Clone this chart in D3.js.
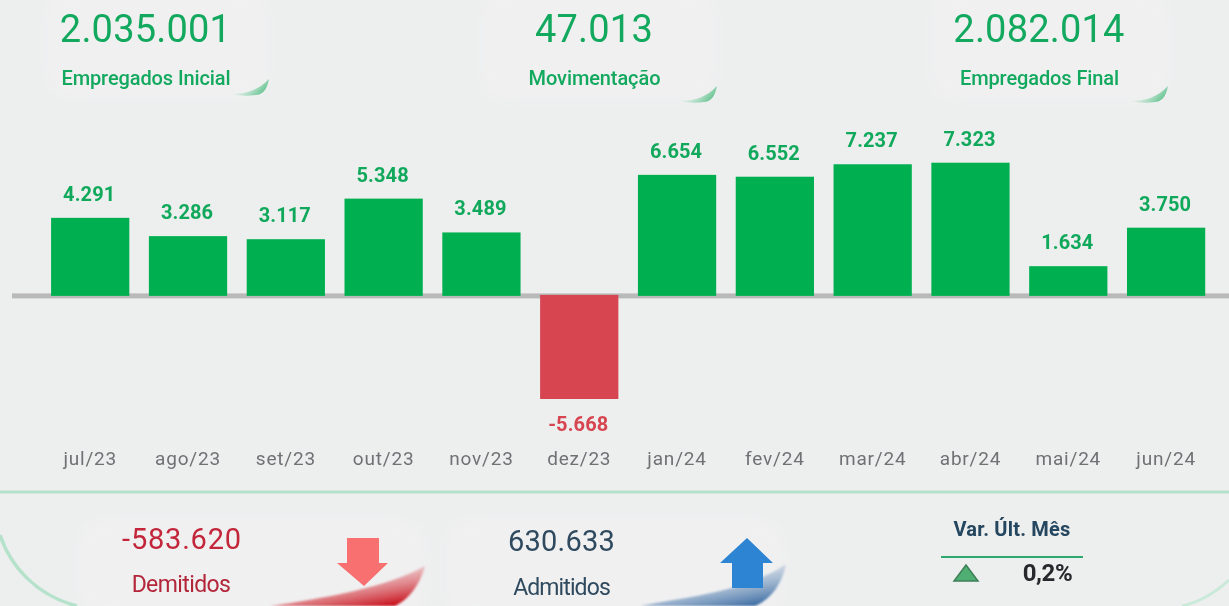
<!DOCTYPE html>
<html>
<head>
<meta charset="utf-8">
<script src="https://d3js.org/d3.v7.min.js"></script>
<style>
  html, body { margin: 0; padding: 0; background: #edeeee; overflow: hidden; }
  text { font-family: "Roboto", sans-serif; }
  svg { filter: blur(0.45px); }
</style>
</head>
<body>
<div id="my_dataviz"></div>

<script>

// chart data
var months = ["jul/23", "ago/23", "set/23", "out/23", "nov/23", "dez/23",
              "jan/24", "fev/24", "mar/24", "abr/24", "mai/24", "jun/24"];
var saldo = [4291, 3286, 3117, 5348, 3489, -5668, 6654, 6552, 7237, 7323, 1634, 3750];

// kpi cards
var kpiValues = ["2.035.001", "47.013", "2.082.014"];
var kpiLabels = ["Empregados Inicial", "Movimentação", "Empregados Final"];
var demitidos = "-583.620";
var admitidos = "630.633";
var varUltMes = "0,2%";

var width = 1229, height = 606;
var green = "#00b050", red = "#d64550";
var kpiGreen = "#12a95f";

var svg = d3.select("#my_dataviz")
  .append("svg")
    .attr("width", width)
    .attr("height", height)
    .style("display", "block");

var defs = svg.append("defs");

function blurFilter(id, amount) {
  defs.append("filter").attr("id", id)
      .attr("x", "-20%").attr("y", "-20%").attr("width", "140%").attr("height", "140%")
    .append("feGaussianBlur").attr("stdDeviation", amount);
}
blurFilter("soft", 8);
blurFilter("curlBlur", 1);

function curlGradient(id, from, to, x1, y1, x2, y2) {
  var g = defs.append("linearGradient").attr("id", id)
      .attr("x1", x1).attr("y1", y1).attr("x2", x2).attr("y2", y2);
  g.append("stop").attr("offset", "0").attr("stop-color", from).attr("stop-opacity", 0);
  g.append("stop").attr("offset", "1").attr("stop-color", to);
}
curlGradient("curlGreen", "#cfeedd", "#4dbb7f", 0, 0.3, 1, 0.7);
curlGradient("curlRed", "#f5c9c9", "#c8111c", 0.1, 0, 0.75, 1);
curlGradient("curlBlue", "#dfe6ee", "#3f6fa5", 0.1, 0, 0.75, 1);

// pale cards behind the texts
var cards = [[45, -10, 225, 108], [480, -10, 238, 112], [930, -10, 240, 112],
             [78, 518, 348, 100], [445, 518, 340, 100]];
svg.append("g").selectAll("rect")
  .data(cards)
  .enter()
  .append("rect")
    .attr("x", function (d) { return d[0]; })
    .attr("y", function (d) { return d[1]; })
    .attr("width", function (d) { return d[2]; })
    .attr("height", function (d) { return d[3]; })
    .attr("rx", 22)
    .style("fill", "#f0f0f1")
    .attr("filter", "url(#soft)");

// page curls on the top cards
[[0, 0], [448, 7], [899, 7]].forEach(function (p) {
  svg.append("path")
    .attr("transform", "translate(" + p[0] + "," + p[1] + ")")
    .attr("d", "M232,94 C246,94 259,90 269,79 C267,90 262,95 256,95 C248,96 240,96 232,94 Z")
    .style("fill", "url(#curlGreen)");
});

// x and y scales
var x = d3.scaleBand()
  .domain(months)
  .range([41.3, 1215])
  .paddingInner(0.2)
  .paddingOuter(0.1);

var y = d3.scaleLinear()
  .domain([-5668, 7323])
  .range([399, 162.7]);

// zero line
svg.append("rect")
  .attr("x", 12)
  .attr("y", y(0) - 2.5)
  .attr("width", width - 12)
  .attr("height", 5)
  .style("fill", "#b9b9b9");

// bars
svg.append("g")
  .selectAll("rect")
  .data(saldo)
  .enter()
  .append("rect")
    .attr("x", function (d, i) { return x(months[i]); })
    .attr("y", function (d) { return y(Math.max(d, 0)) - (d < 0 ? 1 : 0); })
    .attr("width", x.bandwidth())
    .attr("height", function (d) { return Math.abs(y(d) - y(0)) + (d < 0 ? 1 : 0); })
    .style("fill", function (d) { return d < 0 ? red : green; });

// bar labels
svg.append("g")
  .selectAll("text")
  .data(saldo)
  .enter()
  .append("text")
    .attr("x", function (d, i) { return x(months[i]) + x.bandwidth() / 2 - 1; })
    .attr("y", function (d) { return d < 0 ? y(d) + 32 : y(d) - 17; })
    .attr("text-anchor", "middle")
    .style("font-size", "20px")
    .style("font-weight", 700)
    .style("letter-spacing", "0.1px")
    .style("fill", function (d) { return d < 0 ? red : "#10a95c"; })
    .text(function (d) { return d3.format(",")(d).replace(/,/g, ".").replace("−", "-"); });

// month axis
var xAxis = svg.append("g")
  .attr("transform", "translate(0,449)")
  .call(d3.axisBottom(x).tickSize(0).tickPadding(2));
xAxis.select(".domain").remove();
xAxis.selectAll("text")
  .style("font-family", "Roboto, sans-serif")
  .style("font-size", "19px")
  .style("letter-spacing", "0.8px")
  .style("fill", "#6f7275");

// kpi values and labels
var kpiX = [145.5, 594, 1039];
var labelX = [146, 594.5, 1039.5];
svg.append("g").selectAll("text")
  .data(kpiValues)
  .enter()
  .append("text")
    .attr("x", function (d, i) { return kpiX[i]; })
    .attr("y", 42)
    .attr("text-anchor", "middle")
    .style("font-size", "38px")
    .style("letter-spacing", "0.2px")
    .style("fill", kpiGreen)
    .text(function (d) { return d; });
svg.append("g").selectAll("text")
  .data(kpiLabels)
  .enter()
  .append("text")
    .attr("x", function (d, i) { return labelX[i]; })
    .attr("y", 85)
    .attr("text-anchor", "middle")
    .style("font-size", "20px")
    .style("font-weight", 500)
    .style("letter-spacing", "-0.1px")
    .style("fill", kpiGreen)
    .text(function (d) { return d; });

// bottom panel outline
svg.append("path")
  .attr("d", "M0,492 H1229")
  .style("fill", "none")
  .style("stroke", "#b4e2cb")
  .style("stroke-width", 3);
svg.append("path")
  .attr("d", "M0,535 C10,565 35,595 77,606")
  .style("fill", "none")
  .style("stroke", "#b4e2cb")
  .style("stroke-width", 3.5);
svg.append("path")
  .attr("d", "M1229,580 C1215,593 1200,602 1182,606")
  .style("fill", "none")
  .style("stroke", "#c9e9d9")
  .style("stroke-width", 3);

// demitidos
svg.append("path")
  .attr("d", "M347,538 H379 V563 H388 L364,586 L337,563 H347 Z")
  .style("fill", "#f87070");
svg.append("path")
  .attr("d", "M270,606 C325,598 385,588 425,566 C420,585 408,600 395,606 Z")
  .attr("filter", "url(#curlBlur)")
  .style("fill", "url(#curlRed)");
svg.append("text")
  .attr("x", 182).attr("y", 549)
  .attr("text-anchor", "middle")
  .style("font-size", "29px")
  .style("letter-spacing", "0.8px")
  .style("fill", "#c3263a")
  .text(demitidos);
svg.append("text")
  .attr("x", 181).attr("y", 592)
  .attr("text-anchor", "middle")
  .style("font-size", "23px")
  .style("letter-spacing", "-0.6px")
  .style("fill", "#b3263a")
  .text("Demitidos");

// admitidos
svg.append("path")
  .attr("d", "M640,606 C690,596 745,592 786,564 C782,585 770,600 755,606 Z")
  .attr("filter", "url(#curlBlur)")
  .style("fill", "url(#curlBlue)");
svg.append("path")
  .attr("d", "M747,538 L773,563 H763 V588 H732 V563 H720 Z")
  .style("fill", "#2c84d2");
svg.append("text")
  .attr("x", 561.5).attr("y", 551)
  .attr("text-anchor", "middle")
  .style("font-size", "29px")
  .style("letter-spacing", "0.2px")
  .style("fill", "#2f4a5e")
  .text(admitidos);
svg.append("text")
  .attr("x", 561.5).attr("y", 595)
  .attr("text-anchor", "middle")
  .style("font-size", "23px")
  .style("letter-spacing", "-0.9px")
  .style("fill", "#2f4a5e")
  .text("Admitidos");

// variacao ultimo mes
svg.append("text")
  .attr("x", 1012).attr("y", 536)
  .attr("text-anchor", "middle")
  .style("font-size", "20px")
  .style("font-weight", 700)
  .style("letter-spacing", "0.2px")
  .style("fill", "#24465f")
  .text("Var. Últ. Mês");
svg.append("path")
  .attr("d", "M941,557 H1083")
  .style("stroke", "#2fa86f")
  .style("stroke-width", 2);
svg.append("path")
  .attr("d", "M966,565 L978,581 H954 Z")
  .style("fill", "#4fae72")
  .style("stroke", "#3f7f58")
  .style("stroke-width", 1.5);
svg.append("text")
  .attr("x", 1047.5).attr("y", 581)
  .attr("text-anchor", "middle")
  .style("font-size", "24px")
  .style("font-weight", 700)
  .style("letter-spacing", "-0.4px")
  .style("fill", "#26282b")
  .text(varUltMes);

</script>
</body>
</html>
